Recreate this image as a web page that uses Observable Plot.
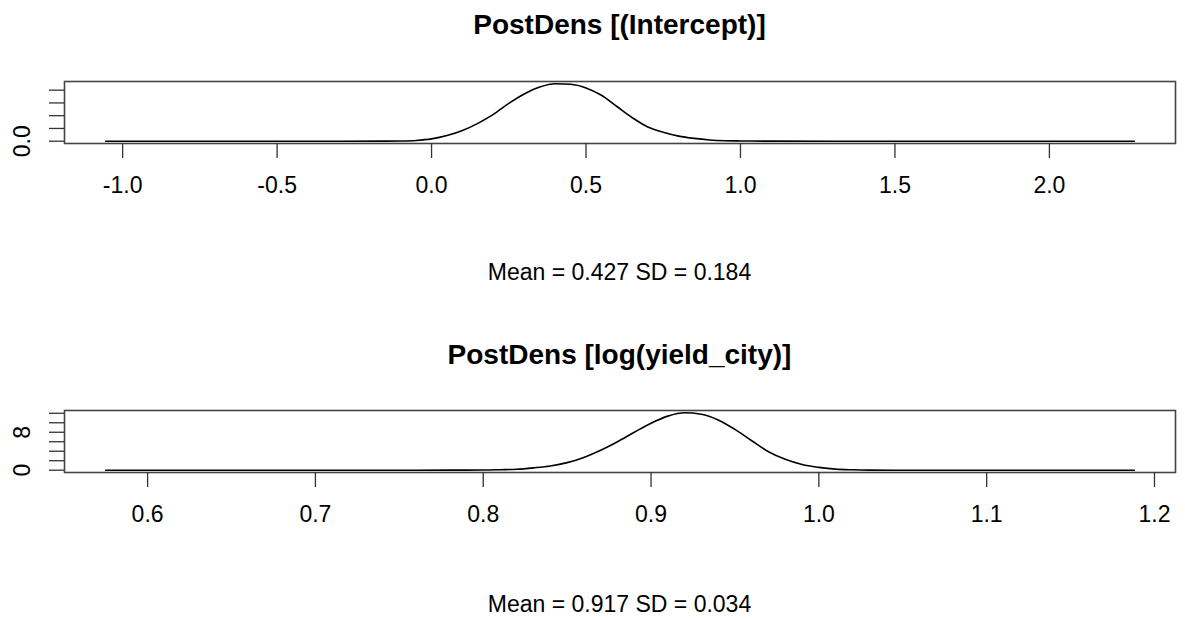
<!DOCTYPE html>
<html>
<head>
<meta charset="utf-8">
<script src="https://cdn.jsdelivr.net/npm/d3@7"></script>
<script src="https://cdn.jsdelivr.net/npm/@observablehq/plot@0.6"></script>
<style>
  html, body { margin: 0; padding: 0; background: #fff; }
  #root { position: relative; width: 1185px; height: 620px; font-family: "Liberation Sans", Arial, sans-serif; color: #000; overflow: hidden; }
  .title { position: absolute; left: 64px; width: 1111px; text-align: center; font-weight: bold; font-size: 28px; line-height: 34px; }
  .caption { position: absolute; left: 64px; width: 1111px; text-align: center; font-size: 23px; line-height: 28px; }
  .panel { position: absolute; left: 0; }
</style>
</head>
<body>
<div id="root"></div>
<script>
// ---- Data ----
const titles = ["PostDens [(Intercept)]", "PostDens [log(yield_city)]"];
const captions = ["Mean = 0.427 SD = 0.184", "Mean = 0.917 SD = 0.034"];

// Panel 1: posterior density of (Intercept)
const x1 = [-1.055, -0.6, -0.3, -0.15, -0.10, -0.05, 0.00, 0.05, 0.10, 0.15, 0.20, 0.25, 0.30, 0.35, 0.40, 0.45, 0.50, 0.55, 0.60, 0.65, 0.70, 0.75, 0.80, 0.85, 0.90, 0.95, 1.00, 1.10, 1.30, 1.80, 2.275];
const d1 = [0, 0, 0, 0.005, 0.01, 0.03, 0.09, 0.22, 0.42, 0.70, 1.05, 1.48, 1.85, 2.12, 2.25, 2.23, 2.09, 1.80, 1.36, 0.92, 0.56, 0.35, 0.20, 0.11, 0.05, 0.02, 0.01, 0.003, 0, 0, 0];
const xTicks1 = [-1.0, -0.5, 0.0, 0.5, 1.0, 1.5, 2.0];
const yTicks1 = [0, 0.5, 1.0, 1.5, 2.0];
const yLabels1 = [0];

// Panel 2: posterior density of log(yield_city)
const x2 = [0.575, 0.65, 0.72, 0.78, 0.80, 0.81, 0.82, 0.83, 0.84, 0.85, 0.86, 0.87, 0.88, 0.89, 0.90, 0.91, 0.92, 0.93, 0.94, 0.95, 0.96, 0.97, 0.98, 0.99, 1.00, 1.01, 1.02, 1.03, 1.06, 1.12, 1.188];
const d2 = [0, 0, 0, 0.01, 0.03, 0.1, 0.2, 0.5, 0.9, 1.6, 2.7, 4.2, 6.0, 8.0, 9.9, 11.4, 12.1, 11.8, 10.6, 8.6, 6.2, 3.9, 2.3, 1.2, 0.6, 0.22, 0.08, 0.02, 0, 0, 0];
const xTicks2 = [0.6, 0.7, 0.8, 0.9, 1.0, 1.1, 1.2];
const yTicks2 = [0, 2, 4, 6, 8, 10, 12];
const yLabels2 = [0, 8];

// ---- Layout ----
const W = 1185;
const panels = [
  {x: x1, d: d1, xTicks: xTicks1, yTicks: yTicks1, yLabels: yLabels1, yLabelFmt: v => v.toFixed(1), svgTop: 60, titleTop: 8, capTop: 258},
  {x: x2, d: d2, xTicks: xTicks2, yTicks: yTicks2, yLabels: yLabels2, yLabelFmt: v => String(v), svgTop: 389, titleTop: 338, capTop: 590}
];

function pad(ext) { const s = ext[1] - ext[0]; return [ext[0] - 0.04 * s, ext[1] + 0.04 * s]; }
function fmtX(v) { const s = Math.abs(v).toFixed(1); return v < 0 ? "-" + s : s; }

const root = document.getElementById("root");

panels.forEach((p, i) => {
  const rows = p.x.map((xv, j) => ({x: xv, d: p.d[j]}));
  const xDom = pad(d3.extent(p.x));
  const yDom = pad([0, d3.max(p.d)]);

  const t = document.createElement("div");
  t.className = "title";
  t.style.top = p.titleTop + "px";
  t.textContent = titles[i];
  root.appendChild(t);

  const chart = Plot.plot({
    width: W,
    height: 150,
    marginLeft: 64,
    marginRight: 10,
    marginTop: 21,
    marginBottom: 67,
    style: {fontFamily: '"Liberation Sans", Arial, sans-serif', fontSize: "23px", color: "#000", background: "transparent", overflow: "visible"},
    x: {domain: xDom},
    y: {domain: yDom},
    marks: [
      Plot.frame({stroke: "#444", strokeWidth: 1.6}),
      Plot.axisX({ticks: p.xTicks, tickSize: 15, tickPadding: 18, tickFormat: fmtX, label: null, stroke: "#333", strokeWidth: 1.3, fontSize: 23, fill: "#000"}),
      Plot.axisY({ticks: p.yTicks, tickSize: 15, tickFormat: () => "", label: null, stroke: "#333", strokeWidth: 1.3}),
      Plot.text(p.yLabels, {y: v => v, text: v => p.yLabelFmt(v), frameAnchor: "left", dx: -42, rotate: -90, textAnchor: "middle", lineAnchor: "middle", fontSize: 23, fill: "#000"}),
      Plot.line(rows, {x: "x", y: "d", stroke: "#000", strokeWidth: 1.6, curve: "monotone-x"})
    ]
  });
  chart.classList.add("panel");
  chart.style.top = p.svgTop + "px";
  root.appendChild(chart);

  const c = document.createElement("div");
  c.className = "caption";
  c.style.top = p.capTop + "px";
  c.textContent = captions[i];
  root.appendChild(c);
});
</script>
</body>
</html>
